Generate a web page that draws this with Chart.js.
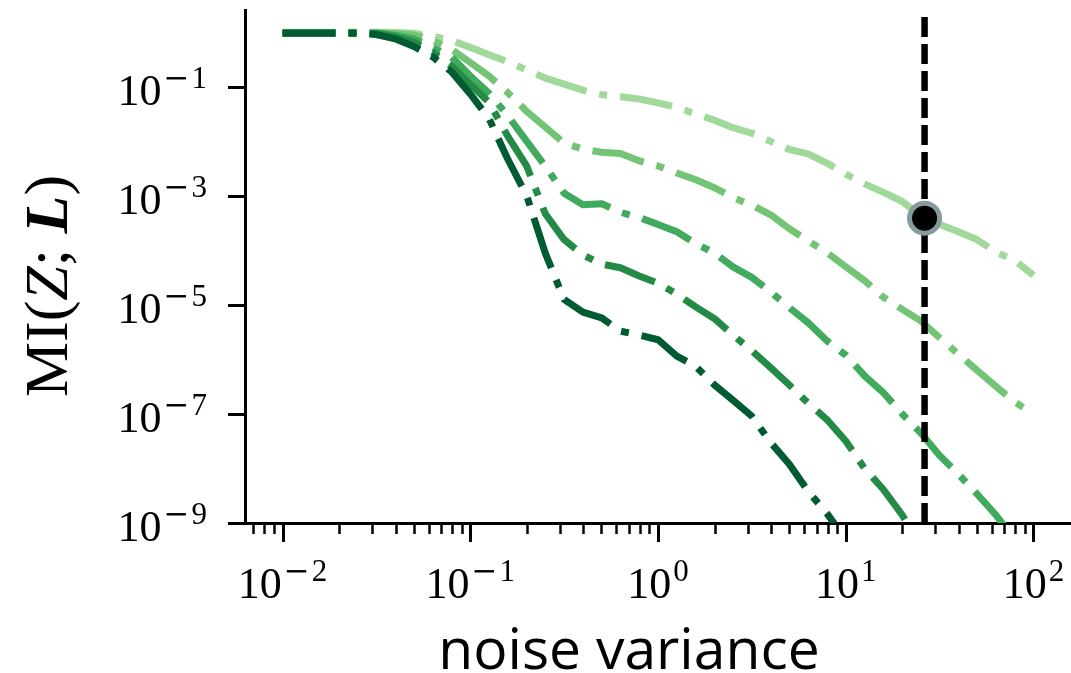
<!DOCTYPE html>
<html>
<head>
<meta charset="utf-8">
<script src="https://cdn.jsdelivr.net/npm/chart.js@4.4.1/dist/chart.umd.min.js"></script>
<style>
html, body { margin: 0; padding: 0; background: #fff; }
</style>
</head>
<body>
<canvas id="chart1" width="1071" height="673"></canvas>
<script>
// noise variance grid (x)
var noiseVar = [0.01, 0.0126, 0.0158, 0.02, 0.0251, 0.0316, 0.0398, 0.0501, 0.0631, 0.0794,
    0.1, 0.126, 0.158, 0.2, 0.251, 0.316, 0.398, 0.501, 0.631, 0.794,
    1, 1.26, 1.58, 2, 2.51, 3.16, 3.98, 5.01, 6.31, 7.94,
    10, 12.6, 15.8, 20, 25.1, 31.6, 39.8, 50.1, 63.1, 79.4, 100];

// MI(Z; L) curves, lightest to darkest
var mi1 = [1.0, 1.0, 1.0, 1.0, 1.0, 1.0, 0.99, 0.96, 0.85, 0.71,
    0.53, 0.39, 0.29, 0.204, 0.145, 0.112, 0.087, 0.072, 0.066, 0.060,
    0.051, 0.042, 0.032, 0.0245, 0.0178, 0.0141, 0.0100, 0.0071, 0.0059, 0.0040,
    0.0025, 0.00166, 0.00117, 7.9e-4, 4.4e-4, 3.0e-4, 2.2e-4, 1.58e-4, 9.3e-5, 6.6e-5, 3.5e-5];
var mi2 = [0.99, 0.99, 0.99, 0.99, 0.99, 0.98, 0.95, 0.89, 0.71, 0.49,
    0.28, 0.158, 0.079, 0.0355, 0.0182, 0.0093, 0.0072, 0.0063, 0.0060, 0.0044,
    0.00355, 0.00263, 0.0020, 0.00141, 9.3e-4, 6.8e-4, 4.5e-4, 2.5e-4, 1.5e-4, 9.1e-5,
    5.0e-5, 2.8e-5, 1.4e-5, 8.3e-6, 5.1e-6, 2.5e-6, 1.26e-6, 6.3e-7, 3.2e-7, 1.66e-7, 1.0e-7];
var mi3 = [0.98, 0.98, 0.98, 0.98, 0.98, 0.97, 0.89, 0.76, 0.525, 0.355,
    0.158, 0.076, 0.030, 0.010, 0.0035, 0.00112, 6.9e-4, 7.2e-4, 5.0e-4, 4.0e-4,
    3.0e-4, 2.2e-4, 1.35e-4, 8.9e-5, 5.0e-5, 3.2e-5, 1.74e-5, 8.9e-6, 4.7e-6, 2.2e-6,
    1.2e-6, 5.0e-7, 2.5e-7, 1.0e-7, 4.5e-8, 1.74e-8, 7.9e-9, 3.4e-9, 1.4e-9, 5.0e-10, null];
var mi4 = [0.97, 0.97, 0.97, 0.97, 0.97, 0.95, 0.83, 0.66, 0.43, 0.24,
    0.112, 0.052, 0.0126, 0.0035, 4.7e-4, 1.58e-4, 8.3e-5, 5.6e-5, 4.8e-5, 3.4e-5,
    2.5e-5, 1.58e-5, 9.3e-6, 5.6e-6, 2.8e-6, 1.45e-6, 7.1e-7, 3.4e-7, 1.58e-7, 7.9e-8,
    3.2e-8, 1.0e-8, 4.2e-9, 1.4e-9, 4.0e-10, null, null, null, null, null, null];
var mi5 = [0.96, 0.96, 0.96, 0.96, 0.96, 0.91, 0.76, 0.55, 0.355, 0.19,
    0.074, 0.026, 0.0048, 0.0010, 8.9e-5, 1.26e-5, 7.4e-6, 5.8e-6, 3.3e-6, 2.8e-6,
    2.3e-6, 1.15e-6, 7.6e-7, 3.4e-7, 1.78e-7, 9.1e-8, 3.0e-8, 1.2e-8, 3.8e-9, 1.5e-9,
    5.0e-10, null, null, null, null, null, null, null, null, null, null];

// chosen noise level and its point on the lightest curve
var chosenVar = 26.3;
var chosenMI = 3.9e-4;

// axis ticks
var xMajor = [0.01, 0.1, 1, 10, 100];
var xExp = ['\u22122', '\u22121', '0', '1', '2'];
var yMajor = [1e-1, 1e-3, 1e-5, 1e-7, 1e-9];
var yExp = ['\u22121', '\u22123', '\u22125', '\u22127', '\u22129'];

var xMin = 0.00631, xMax = 158.5;
var yMin = 1e-9, yMax = 2.57;

var greens = ['#a1d99b', '#74c476', '#41ab5d', '#238b45', '#005a32'];
var series = [mi1, mi2, mi3, mi4, mi5];

function toPoints(arr) {
    var pts = [];
    for (var i = 0; i < noiseVar.length; i++) {
        if (arr[i] !== null) pts.push({x: noiseVar[i], y: arr[i]});
    }
    return pts;
}

var datasets = [];
// marker on top
datasets.push({
    data: [{x: chosenVar, y: chosenMI}],
    showLine: false,
    pointRadius: 15,
    pointBorderWidth: 5,
    pointBackgroundColor: '#000',
    pointBorderColor: '#869b9e'
});
// vertical dashed line
datasets.push({
    data: [{x: chosenVar, y: yMin}, {x: chosenVar, y: yMax}],
    borderColor: '#000',
    borderWidth: 6.5,
    borderDash: [20, 7],
    borderCapStyle: 'butt',
    pointRadius: 0
});
// darkest drawn on top
for (var s = series.length - 1; s >= 0; s--) {
    datasets.push({
        data: toPoints(series[s]),
        borderColor: greens[s],
        borderWidth: 7,
        borderDash: [53, 13, 8, 13],
        borderCapStyle: 'butt',
        borderJoinStyle: 'round',
        pointRadius: 0,
        tension: 0
    });
}

function drawPow(ctx, exp, cx, baseY, align) {
    ctx.font = '44px "Liberation Serif"';
    var wBase = ctx.measureText('10').width;
    var minus = exp.charAt(0) === '\u2212';
    var digit = minus ? exp.slice(1) : exp;
    ctx.font = '31px "DejaVu Serif"';
    var wMinus = minus ? ctx.measureText('\u2212').width + 2 : 0;
    ctx.font = '31px "Liberation Serif"';
    var wDigit = ctx.measureText(digit).width;
    var total = wBase + 2 + wMinus + wDigit;
    var x0 = align === 'right' ? cx - total : cx - total / 2;
    ctx.fillStyle = '#000';
    ctx.textAlign = 'left';
    ctx.textBaseline = 'alphabetic';
    ctx.font = '44px "Liberation Serif"';
    ctx.fillText('10', x0, baseY);
    var xs = x0 + wBase + 2;
    if (minus) {
        ctx.font = '31px "DejaVu Serif"';
        ctx.fillText('\u2212', xs, baseY - 17);
        xs += wMinus;
    }
    ctx.font = '31px "Liberation Serif"';
    ctx.fillText(digit, xs, baseY - 17);
}

var axisDecor = {
    id: 'axisDecor',
    afterDraw: function(chart) {
        var ctx = chart.ctx;
        var xs = chart.scales.x, ys = chart.scales.y;
        var area = chart.chartArea;
        ctx.save();
        ctx.strokeStyle = '#000';
        // x ticks
        for (var e = -3; e <= 2; e++) {
            for (var m = 1; m <= 9; m++) {
                var v = m * Math.pow(10, e);
                if (v < xMin || v > xMax) continue;
                var px = Math.round(xs.getPixelForValue(v)) + 0.5;
                ctx.lineWidth = m === 1 ? 3 : 2.5;
                ctx.beginPath();
                ctx.moveTo(px, area.bottom);
                ctx.lineTo(px, area.bottom + (m === 1 ? 19 : 11));
                ctx.stroke();
            }
        }
        // y ticks
        ctx.lineWidth = 3;
        yMajor.forEach(function(v) {
            var py = Math.round(ys.getPixelForValue(v)) + 0.5;
            ctx.beginPath();
            ctx.moveTo(area.left - 17, py);
            ctx.lineTo(area.left, py);
            ctx.stroke();
        });
        // tick labels
        xMajor.forEach(function(v, i) {
            drawPow(ctx, xExp[i], xs.getPixelForValue(v), 598, 'center');
        });
        yMajor.forEach(function(v, i) {
            drawPow(ctx, yExp[i], 207, ys.getPixelForValue(v) + 18, 'right');
        });
        // x title
        ctx.fillStyle = '#000';
        ctx.font = '57px "Open Sans"';
        ctx.textAlign = 'center';
        ctx.textBaseline = 'alphabetic';
        ctx.fillText('noise variance', 629, 669);
        // y title MI(Z; L)
        var parts = [
            ['MI(', '62px "Liberation Serif"'],
            ['Z', 'italic 62px "Liberation Serif"'],
            ['; ', '62px "Liberation Serif"'],
            ['L', 'bold italic 62px "Liberation Serif"'],
            [')', '62px "Liberation Serif"']
        ];
        var tw = 0;
        parts.forEach(function(p) { ctx.font = p[1]; tw += ctx.measureText(p[0]).width; });
        ctx.translate(67, 286);
        ctx.rotate(-Math.PI / 2);
        ctx.textAlign = 'left';
        var tx = -tw / 2;
        parts.forEach(function(p) {
            ctx.font = p[1];
            ctx.fillText(p[0], tx, 0);
            tx += ctx.measureText(p[0]).width;
        });
        ctx.restore();
    }
};

var ctx1 = document.getElementById('chart1').getContext('2d');
var chart1 = new Chart(ctx1, {
    type: 'line',
    data: { datasets: datasets },
    options: {
        responsive: false,
        animation: false,
        devicePixelRatio: 1,
        layout: { autoPadding: false, padding: { top: 10, right: 0, bottom: 0, left: 0 } },
        plugins: { legend: { display: false }, tooltip: { enabled: false } },
        scales: {
            x: {
                type: 'logarithmic',
                min: xMin,
                max: xMax,
                grid: { display: false },
                ticks: { display: false },
                border: { display: true, color: '#000', width: 3 },
                afterFit: function(scale) { scale.height = 150; }
            },
            y: {
                type: 'logarithmic',
                min: yMin,
                max: yMax,
                grid: { display: false },
                ticks: { display: false },
                border: { display: true, color: '#000', width: 3 },
                afterFit: function(scale) { scale.width = 245; }
            }
        }
    },
    plugins: [axisDecor]
});
</script>
</body>
</html>
